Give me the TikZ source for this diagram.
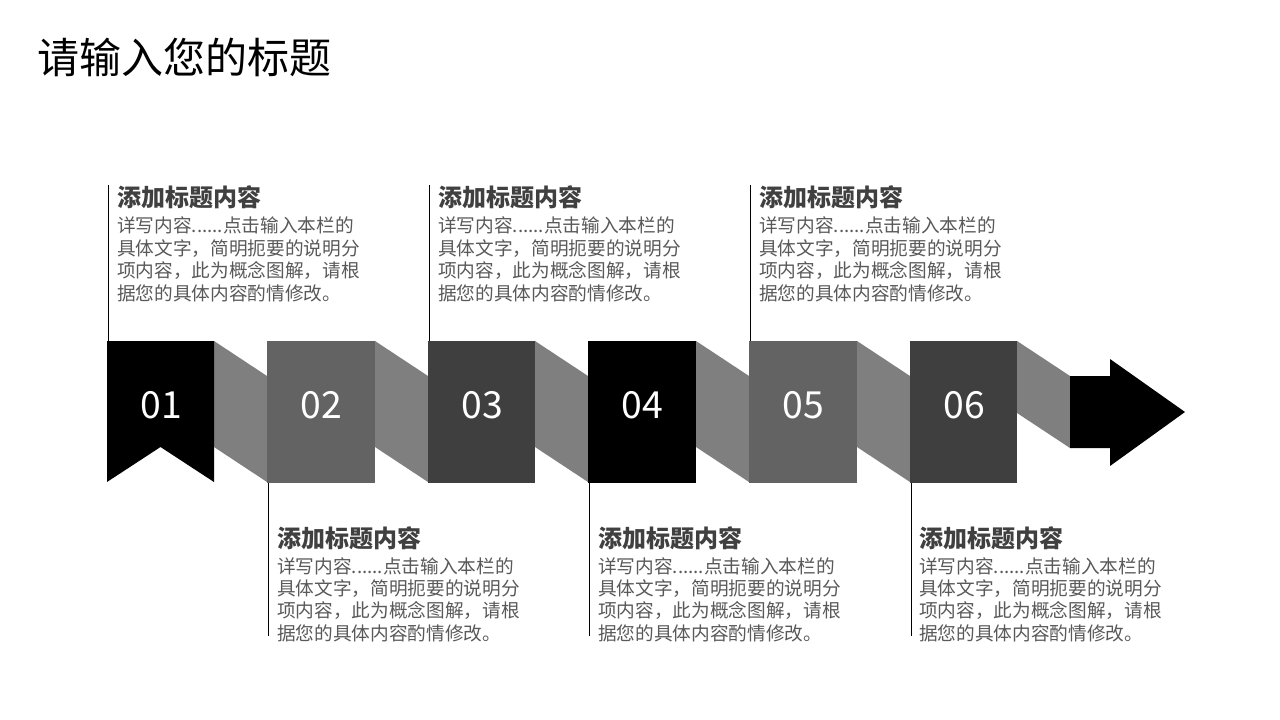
\documentclass[tikz,border=0pt]{standalone}
\usepackage{fontspec}
\setmainfont{Noto Sans CJK SC}
\newfontfamily\cjk{Noto Sans CJK SC}
\definecolor{cA}{HTML}{000000}
\definecolor{cB}{HTML}{636363}
\definecolor{cC}{HTML}{3F3F3F}
\definecolor{conn}{HTML}{7F7F7F}
\definecolor{headc}{HTML}{404040}
\definecolor{bodyc}{HTML}{595959}
\tikzset{
  numlabel/.style={text=white,font=\cjk\fontsize{28pt}{30pt}\selectfont,anchor=base,inner sep=0pt},
  headtext/.style={text=headc,font=\cjk\bfseries\fontsize{18pt}{20pt}\selectfont,anchor=base west,inner sep=0pt},
  bodytext/.style={text=bodyc,font=\cjk\fontsize{14pt}{16.7pt}\selectfont,anchor=base west,inner sep=0pt},
  guide/.style={draw=black,line width=0.75pt},
}
\begin{document}
\begin{tikzpicture}[x=0.75pt,y=-0.75pt]
\useasboundingbox (0,0) rectangle (1280,720);
\fill[white] (0,0) rectangle (1280,720);
% title
\node[anchor=base west,inner sep=0pt,font=\cjk\fontsize{31.5pt}{34pt}\selectfont,text=black] (title) at (37,74) {请输入您的标题};
% connectors (behind blocks)
\foreach \r in {214,375,535,696,857}{
  \fill[conn] (\r,341) -- (\r+53,376) -- (\r+53,482) -- (\r,447) -- cycle;
}
\fill[conn] (1017,341) -- (1070,376) -- (1070,448) -- (1017,413) -- cycle;
% blocks
\fill[cA] (107,341) -- (214,341) -- (214,482) -- (160.5,447) -- (107,482) -- cycle;
\fill[cB] (267,341) rectangle (375,483);
\fill[cC] (428,341) rectangle (535,483);
\fill[cA] (588,341) rectangle (696,483);
\fill[cB] (749,341) rectangle (857,483);
\fill[cC] (910,341) rectangle (1017,483);
% arrow
\fill[black] (1070,376) -- (1110,376) -- (1110,359) -- (1185,412) -- (1110,466) -- (1110,448) -- (1070,448) -- cycle;
% numbers
\node[numlabel] (n1) at (161,418) {01};
\node[numlabel] (n2) at (321,418) {02};
\node[numlabel] (n3) at (482,418) {03};
\node[numlabel] (n4) at (642,418) {04};
\node[numlabel] (n5) at (803,418) {05};
\node[numlabel] (n6) at (964,418) {06};
% guide lines
\coordinate (t1a) at (108,185); \coordinate (t1b) at (108,341);
\coordinate (t3a) at (429,185); \coordinate (t3b) at (429,341);
\coordinate (t5a) at (750,185); \coordinate (t5b) at (750,341);
\coordinate (b2a) at (268,483); \coordinate (b2b) at (268,636);
\coordinate (b4a) at (589,483); \coordinate (b4b) at (589,636);
\coordinate (b6a) at (911,483); \coordinate (b6b) at (911,636);
\draw[guide] (t1a) -- (t1b);
\draw[guide] (t3a) -- (t3b);
\draw[guide] (t5a) -- (t5b);
\draw[guide] (b2a) -- (b2b);
\draw[guide] (b4a) -- (b4b);
\draw[guide] (b6a) -- (b6b);
% text groups
\foreach \x/\y/\nm in {117/0/ta,438/0/tb,759/0/tc,277/340/td,598/340/te,919/340/tf}{
  \node[headtext] (\nm h) at (\x,\y+207) {添加标题内容};
  \node[bodytext] (\nm 1) at (\x,\y+233) {详写内容......点击输入本栏的};
  \node[bodytext] (\nm 2) at (\x,\y+255) {具体文字，简明扼要的说明分};
  \node[bodytext] (\nm 3) at (\x,\y+277) {项内容，此为概念图解，请根};
  \node[bodytext] (\nm 4) at (\x,\y+300) {据您的具体内容酌情修改。};
}
\end{tikzpicture}
\end{document}
